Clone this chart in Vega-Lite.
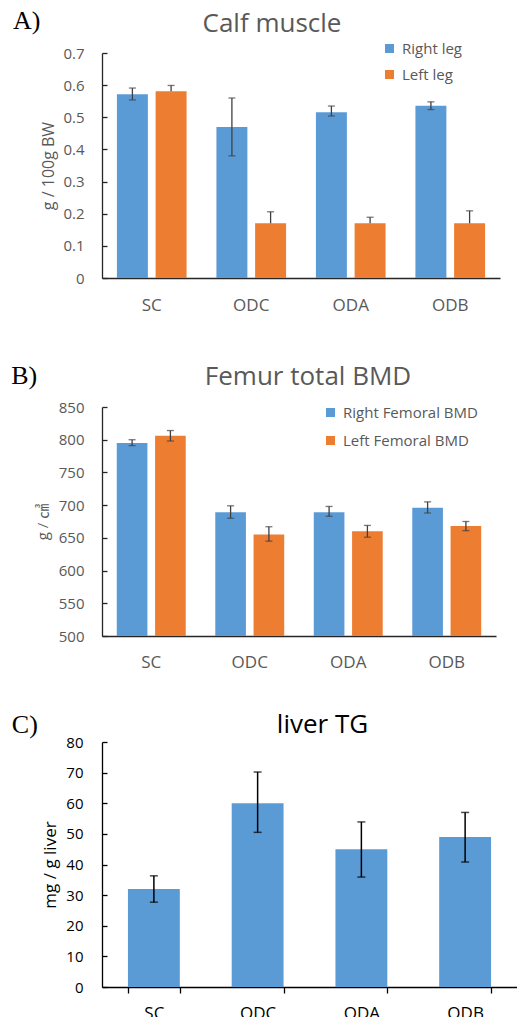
{
  "$schema": "https://vega.github.io/schema/vega-lite/v6.json",
  "padding": {"left": 11, "top": 8, "right": 0, "bottom": 0},
  "spacing": 50,
  "resolve": {"scale": {"color": "independent", "xOffset": "independent", "x": "independent", "y": "independent"}, "legend": {"color": "independent"}},
  "config": {
    "view": {"stroke": null},
    "font": "Open Sans",
    "axis": {"grid": false, "domainWidth": 1.3, "tickWidth": 1.3, "titleFontWeight": "normal"},
    "title": {"fontWeight": "normal"}
  },
  "vconcat": [
    {
      "title": {"text": "A)", "anchor": "start", "font": "Liberation Serif", "fontSize": 26, "color": "#000000", "dy": 23, "dx": -28, "offset": 0},
      "vconcat": [
        {
          "width": 398,
          "height": 225,
          "title": {"text": "Calf muscle", "fontSize": 26, "color": "#595959", "frame": "group", "anchor": "middle", "dx": -29, "offset": 9},
          "data": {"values": [
            {"group": "SC", "side": "Right leg", "value": 0.572, "lo": 0.554, "hi": 0.591},
            {"group": "SC", "side": "Left leg", "value": 0.581, "lo": 0.581, "hi": 0.599},
            {"group": "ODC", "side": "Right leg", "value": 0.47, "lo": 0.38, "hi": 0.56},
            {"group": "ODC", "side": "Left leg", "value": 0.17, "lo": 0.17, "hi": 0.206},
            {"group": "ODA", "side": "Right leg", "value": 0.516, "lo": 0.504, "hi": 0.535},
            {"group": "ODA", "side": "Left leg", "value": 0.17, "lo": 0.17, "hi": 0.189},
            {"group": "ODB", "side": "Right leg", "value": 0.536, "lo": 0.524, "hi": 0.548},
            {"group": "ODB", "side": "Left leg", "value": 0.17, "lo": 0.17, "hi": 0.209}
          ]},
          "encoding": {
            "x": {"field": "group", "type": "nominal", "sort": ["SC", "ODC", "ODA", "ODB"], "scale": {"paddingInner": 0.3, "paddingOuter": 0.15},
                  "axis": {"title": null, "ticks": false, "labelAngle": 0, "labelFontSize": 17, "labelColor": "#595959", "labelPadding": 19, "domainColor": "#262626"}},
            "xOffset": {"field": "side", "type": "nominal", "scale": {"domain": ["Right leg", "Left leg"], "paddingInner": 0.2}}
          },
          "layer": [
            {
              "mark": {"type": "bar"},
              "encoding": {
                "y": {"field": "value", "type": "quantitative", "scale": {"domain": [0, 0.7]},
                      "axis": {"title": "g / 100g BW", "titleFontSize": 16, "titleColor": "#595959", "titlePadding": 6, "values": [0, 0.1, 0.2, 0.3, 0.4, 0.5, 0.6, 0.7], "format": ".1~f", "labelFontSize": 15, "labelColor": "#595959", "tickSize": -5, "labelPadding": 23, "domainColor": "#262626", "tickColor": "#262626"}},
                "color": {"field": "side", "type": "nominal", "scale": {"domain": ["Right leg", "Left leg"], "range": ["#5B9BD5", "#ED7D31"]},
                          "legend": {"orient": "none", "legendX": 280, "legendY": -12, "title": null, "symbolType": "square", "symbolSize": 81, "symbolStrokeWidth": 0, "labelFontSize": 15, "labelColor": "#595959", "rowPadding": 10, "labelOffset": 5, "padding": 0}}
              }
            },
            {
              "mark": {"type": "rule", "color": "#404040", "strokeWidth": 1.3},
              "encoding": {"y": {"field": "lo", "type": "quantitative",
                      "axis": {"title": "g / 100g BW", "titleFontSize": 16, "titleColor": "#595959", "titlePadding": 6, "values": [0, 0.1, 0.2, 0.3, 0.4, 0.5, 0.6, 0.7], "format": ".1~f", "labelFontSize": 15, "labelColor": "#595959", "tickSize": -5, "labelPadding": 23, "domainColor": "#262626", "tickColor": "#262626"}}, "y2": {"field": "hi"}}
            },
            {
              "mark": {"type": "tick", "color": "#404040", "thickness": 1.3, "size": 7},
              "encoding": {"y": {"field": "hi", "type": "quantitative",
                      "axis": {"title": "g / 100g BW", "titleFontSize": 16, "titleColor": "#595959", "titlePadding": 6, "values": [0, 0.1, 0.2, 0.3, 0.4, 0.5, 0.6, 0.7], "format": ".1~f", "labelFontSize": 15, "labelColor": "#595959", "tickSize": -5, "labelPadding": 23, "domainColor": "#262626", "tickColor": "#262626"}}}
            },
            {
              "transform": [{"filter": "datum.side == 'Right leg'"}],
              "mark": {"type": "tick", "color": "#404040", "thickness": 1.3, "size": 7},
              "encoding": {"y": {"field": "lo", "type": "quantitative",
                      "axis": {"title": "g / 100g BW", "titleFontSize": 16, "titleColor": "#595959", "titlePadding": 6, "values": [0, 0.1, 0.2, 0.3, 0.4, 0.5, 0.6, 0.7], "format": ".1~f", "labelFontSize": 15, "labelColor": "#595959", "tickSize": -5, "labelPadding": 23, "domainColor": "#262626", "tickColor": "#262626"}}}
            }
          ]
        }
      ]
    },
    {
      "spacing": 42,
      "vconcat": [
        {
          "title": {"text": "B)", "anchor": "start", "font": "Liberation Serif", "fontSize": 26, "color": "#000000", "dy": 25, "dx": -24, "offset": 0},
          "vconcat": [
            {
              "width": 394,
              "height": 229,
              "title": {"text": "Femur total BMD", "fontSize": 26, "color": "#595959", "frame": "group", "anchor": "middle", "dx": 9, "offset": 10},
              "data": {"values": [
                {"group": "SC", "side": "Right Femoral BMD", "value": 795, "lo": 791, "hi": 800},
                {"group": "SC", "side": "Left Femoral BMD", "value": 806, "lo": 798, "hi": 814},
                {"group": "ODC", "side": "Right Femoral BMD", "value": 689, "lo": 680, "hi": 699},
                {"group": "ODC", "side": "Left Femoral BMD", "value": 655, "lo": 645, "hi": 667},
                {"group": "ODA", "side": "Right Femoral BMD", "value": 689, "lo": 683, "hi": 698},
                {"group": "ODA", "side": "Left Femoral BMD", "value": 660, "lo": 651, "hi": 669},
                {"group": "ODB", "side": "Right Femoral BMD", "value": 696, "lo": 688, "hi": 705},
                {"group": "ODB", "side": "Left Femoral BMD", "value": 668, "lo": 661, "hi": 675}
              ]},
              "encoding": {
                "x": {"field": "group", "type": "nominal", "sort": ["SC", "ODC", "ODA", "ODB"], "scale": {"paddingInner": 0.3, "paddingOuter": 0.15},
                      "axis": {"title": null, "ticks": false, "labelAngle": 0, "labelFontSize": 17, "labelColor": "#595959", "labelPadding": 18, "domainColor": "#262626"}},
                "xOffset": {"field": "side", "type": "nominal", "scale": {"domain": ["Right Femoral BMD", "Left Femoral BMD"], "paddingInner": 0.2}}
              },
              "layer": [
                {
                  "mark": {"type": "bar", "clip": true},
                  "encoding": {
                    "y": {"field": "value", "type": "quantitative", "scale": {"domain": [500, 850], "zero": false},
                          "axis": {"title": "g / ㎤", "titleFont": "Open Sans, Noto Sans CJK JP", "titleFontSize": 15, "titleColor": "#595959", "titlePadding": 8, "values": [500, 550, 600, 650, 700, 750, 800, 850], "labelFontSize": 15, "labelColor": "#595959", "tickSize": -5, "labelPadding": 23, "domainColor": "#262626", "tickColor": "#262626"}},
                    "color": {"field": "side", "type": "nominal", "scale": {"domain": ["Right Femoral BMD", "Left Femoral BMD"], "range": ["#5B9BD5", "#ED7D31"]},
                              "legend": {"orient": "none", "legendX": 221, "legendY": -2, "title": null, "symbolType": "square", "symbolSize": 81, "symbolStrokeWidth": 0, "labelFontSize": 15, "labelColor": "#595959", "rowPadding": 12, "labelOffset": 5, "padding": 0}}
                  }
                },
                {
                  "mark": {"type": "rule", "color": "#404040", "strokeWidth": 1.3},
                  "encoding": {"y": {"field": "lo", "type": "quantitative",
                          "axis": {"title": "g / ㎤", "titleFont": "Open Sans, Noto Sans CJK JP", "titleFontSize": 15, "titleColor": "#595959", "titlePadding": 8, "values": [500, 550, 600, 650, 700, 750, 800, 850], "labelFontSize": 15, "labelColor": "#595959", "tickSize": -5, "labelPadding": 23, "domainColor": "#262626", "tickColor": "#262626"}}, "y2": {"field": "hi"}}
                },
                {
                  "mark": {"type": "tick", "color": "#404040", "thickness": 1.3, "size": 7},
                  "encoding": {"y": {"field": "hi", "type": "quantitative",
                          "axis": {"title": "g / ㎤", "titleFont": "Open Sans, Noto Sans CJK JP", "titleFontSize": 15, "titleColor": "#595959", "titlePadding": 8, "values": [500, 550, 600, 650, 700, 750, 800, 850], "labelFontSize": 15, "labelColor": "#595959", "tickSize": -5, "labelPadding": 23, "domainColor": "#262626", "tickColor": "#262626"}}}
                },
                {
                  "mark": {"type": "tick", "color": "#404040", "thickness": 1.3, "size": 7},
                  "encoding": {"y": {"field": "lo", "type": "quantitative",
                          "axis": {"title": "g / ㎤", "titleFont": "Open Sans, Noto Sans CJK JP", "titleFontSize": 15, "titleColor": "#595959", "titlePadding": 8, "values": [500, 550, 600, 650, 700, 750, 800, 850], "labelFontSize": 15, "labelColor": "#595959", "tickSize": -5, "labelPadding": 23, "domainColor": "#262626", "tickColor": "#262626"}}}
                }
              ]
            }
          ]
        },
        {
          "title": {"text": "C)", "anchor": "start", "font": "Liberation Serif", "fontSize": 26, "color": "#000000", "dy": 26, "dx": -30, "offset": 0},
          "vconcat": [
            {
              "width": 415,
              "height": 245,
              "title": {"text": "liver TG", "fontSize": 26, "color": "#000000", "frame": "group", "anchor": "middle", "dx": 13, "offset": -3},
              "data": {"values": [
                {"group": "SC", "value": 32, "lo": 27.7, "hi": 36.3},
                {"group": "ODC", "value": 60, "lo": 50.5, "hi": 70.2},
                {"group": "ODA", "value": 45, "lo": 35.9, "hi": 53.9},
                {"group": "ODB", "value": 49, "lo": 40.8, "hi": 57.0}
              ]},
              "encoding": {
                "x": {"field": "group", "type": "nominal", "sort": ["SC", "ODC", "ODA", "ODB"], "scale": {"paddingInner": 0.5, "paddingOuter": 0.25},
                      "axis": {"title": null, "ticks": true, "tickBand": "extent", "tickSize": 6, "tickColor": "#000000", "labelAngle": 0, "labelFontSize": 17, "labelColor": "#000000", "labelPadding": 12, "domainColor": "#000000"}}
              },
              "layer": [
                {
                  "mark": {"type": "bar", "color": "#5B9BD5"},
                  "encoding": {
                    "y": {"field": "value", "type": "quantitative", "scale": {"domain": [0, 80]},
                          "axis": {"title": "mg / g liver", "titleFontSize": 17, "titleColor": "#000000", "titlePadding": 6, "values": [0, 10, 20, 30, 40, 50, 60, 70, 80], "labelFontSize": 15, "labelColor": "#000000", "tickSize": -5, "labelPadding": 24, "domainColor": "#000000", "tickColor": "#000000"}}
                  }
                },
                {
                  "mark": {"type": "rule", "color": "#000000", "strokeWidth": 1.5},
                  "encoding": {"y": {"field": "lo", "type": "quantitative",
                          "axis": {"title": "mg / g liver", "titleFontSize": 17, "titleColor": "#000000", "titlePadding": 6, "values": [0, 10, 20, 30, 40, 50, 60, 70, 80], "labelFontSize": 15, "labelColor": "#000000", "tickSize": -5, "labelPadding": 24, "domainColor": "#000000", "tickColor": "#000000"}}, "y2": {"field": "hi"}}
                },
                {
                  "mark": {"type": "tick", "color": "#000000", "thickness": 1.5, "size": 8},
                  "encoding": {"y": {"field": "hi", "type": "quantitative",
                          "axis": {"title": "mg / g liver", "titleFontSize": 17, "titleColor": "#000000", "titlePadding": 6, "values": [0, 10, 20, 30, 40, 50, 60, 70, 80], "labelFontSize": 15, "labelColor": "#000000", "tickSize": -5, "labelPadding": 24, "domainColor": "#000000", "tickColor": "#000000"}}}
                },
                {
                  "mark": {"type": "tick", "color": "#000000", "thickness": 1.5, "size": 8},
                  "encoding": {"y": {"field": "lo", "type": "quantitative",
                          "axis": {"title": "mg / g liver", "titleFontSize": 17, "titleColor": "#000000", "titlePadding": 6, "values": [0, 10, 20, 30, 40, 50, 60, 70, 80], "labelFontSize": 15, "labelColor": "#000000", "tickSize": -5, "labelPadding": 24, "domainColor": "#000000", "tickColor": "#000000"}}}
                }
              ]
            }
          ]
        }
      ]
    }
  ]
}
